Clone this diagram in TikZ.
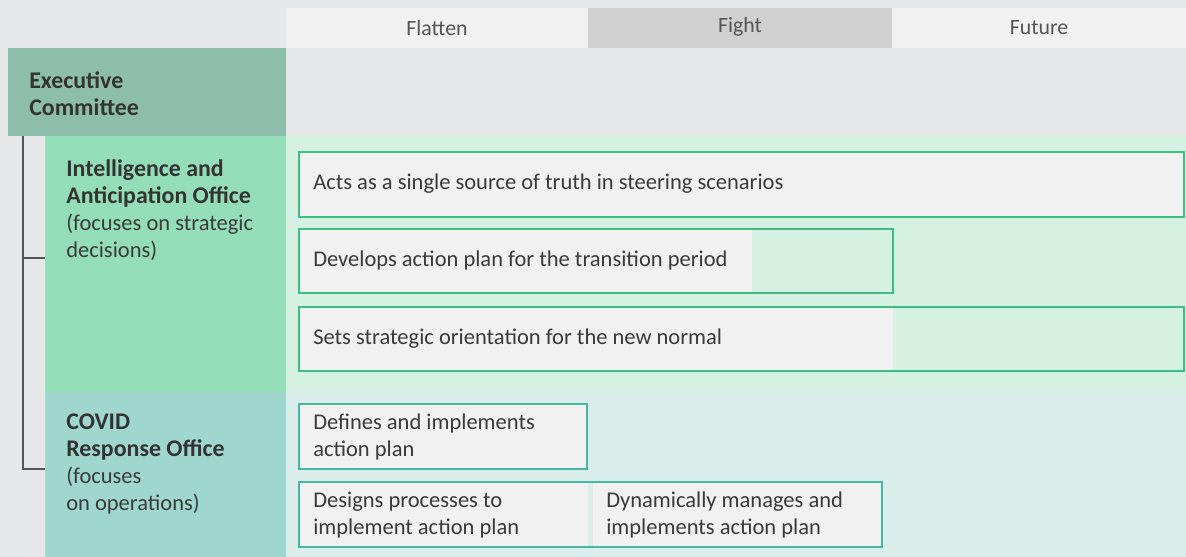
\documentclass[tikz,border=0pt]{standalone}
\usepackage{fontspec}
\setmainfont{Carlito}
\usetikzlibrary{positioning}
\definecolor{bg_grey}{HTML}{E6E7E9}
\definecolor{head_light}{HTML}{F1F1F1}
\definecolor{head_dark}{HTML}{D0D0D0}
\definecolor{exec_green}{HTML}{8DBEAC}
\definecolor{intel_green}{HTML}{93DEB8}
\definecolor{intel_band}{HTML}{D4F1E2}
\definecolor{covid_teal}{HTML}{9FD7CF}
\definecolor{covid_band}{HTML}{D9EEEA}
\definecolor{task_fill}{HTML}{F1F1F1}
\definecolor{task_green}{HTML}{3CC081}
\definecolor{task_teal}{HTML}{45B8A5}
\definecolor{line_grey}{HTML}{555555}
\definecolor{txt_grey}{HTML}{3A3A3A}
\definecolor{title_grey}{HTML}{333333}
\tikzstyle{txt}=[anchor=west,align=left,inner sep=0pt,
  font=\fontsize{16}{19.2}\selectfont,text=txt_grey]
\tikzstyle{title}=[txt,font=\fontsize{17}{19.2}\selectfont\bfseries,text=title_grey]
\tikzstyle{head}=[inner sep=0pt,font=\fontsize{15.5}{19}\selectfont,text=line_grey]
\tikzstyle{gtask}=[draw=task_green,line width=0.9pt]
\tikzstyle{ttask}=[draw=task_teal,line width=0.9pt]
\tikzstyle{tree}=[draw=line_grey,line width=0.8pt]
\newcommand{\boldline}[1]{{\fontsize{17}{19.2}\selectfont\bfseries\color{title_grey}#1}}

\begin{document}
\begin{tikzpicture}[x=0.025cm,y=-0.025cm]
        \fill[bg_grey] (0,0) rectangle (1186,557);
        \useasboundingbox (0,0) rectangle (1186,557);
        % phases
        \fill[head_light] (286,8) rectangle (588,48);
        \fill[head_dark] (588,8) rectangle (892,48);
        \fill[head_light] (892,8) rectangle (1186,48);
        \node[head] (flatten) at (437,28) {Flatten};
        \node[head] (fight) at (740,27) {Fight};
        \node[head] (future) at (1039,28) {Future};
        % left column and bands
        \fill[exec_green] (8,48) rectangle (286,136);
        \fill[intel_green] (45,136) rectangle (286,392);
        \fill[intel_band] (286,136) rectangle (1186,392);
        \fill[covid_teal] (45,392) rectangle (286,557);
        \fill[covid_band] (286,392) rectangle (1186,557);
        \node[title] (exec) at (29,93.5) {Executive\\Committee};
        \node[txt] (intel) at (66,210)
          {\boldline{Intelligence and}\\
           \boldline{Anticipation Office}\\
           (focuses on strategic\\decisions)};
        \node[txt] (covid) at (66,464)
          {\boldline{COVID}\\
           \boldline{Response Office}\\
           (focuses\\on operations)};
        % org tree
        \coordinate (trunk) at (23,136);
        \coordinate (br1) at (45,258);
        \coordinate (br2) at (45,469);
        \draw[tree] (trunk) |- (br1);
        \draw[tree] (trunk) |- (br2);
        % intelligence tasks
        \fill[task_fill] (299,152) rectangle (1184,217);
        \draw[gtask] (299,152) rectangle (1184,217);
        \node[txt] (acts) at (313,184) {Acts as a single source of truth in steering scenarios};
        \fill[task_fill] (299,229) rectangle (752,293);
        \draw[gtask] (299,229) rectangle (893,293);
        \node[txt] (develops) at (313,261) {Develops action plan for the transition period};
        \fill[task_fill] (299,307) rectangle (893,371);
        \draw[gtask] (299,307) rectangle (1184,371);
        \node[txt] (sets) at (313,339) {Sets strategic orientation for the new normal};
        % covid tasks
        \fill[task_fill] (299,404) rectangle (587,469);
        \draw[ttask] (299,404) rectangle (587,469);
        \node[txt] (defines) at (313,437) {Defines and implements\\action plan};
        \fill[task_fill] (299,482) rectangle (588,547);
        \fill[task_fill] (593,482) rectangle (882,547);
        \draw[ttask] (299,482) rectangle (882,547);
        \node[txt] (designs) at (313,515) {Designs processes to\\implement action plan};
        \node[txt] (manages) at (606,515) {Dynamically manages and\\implements action plan};
\end{tikzpicture}
\end{document}
